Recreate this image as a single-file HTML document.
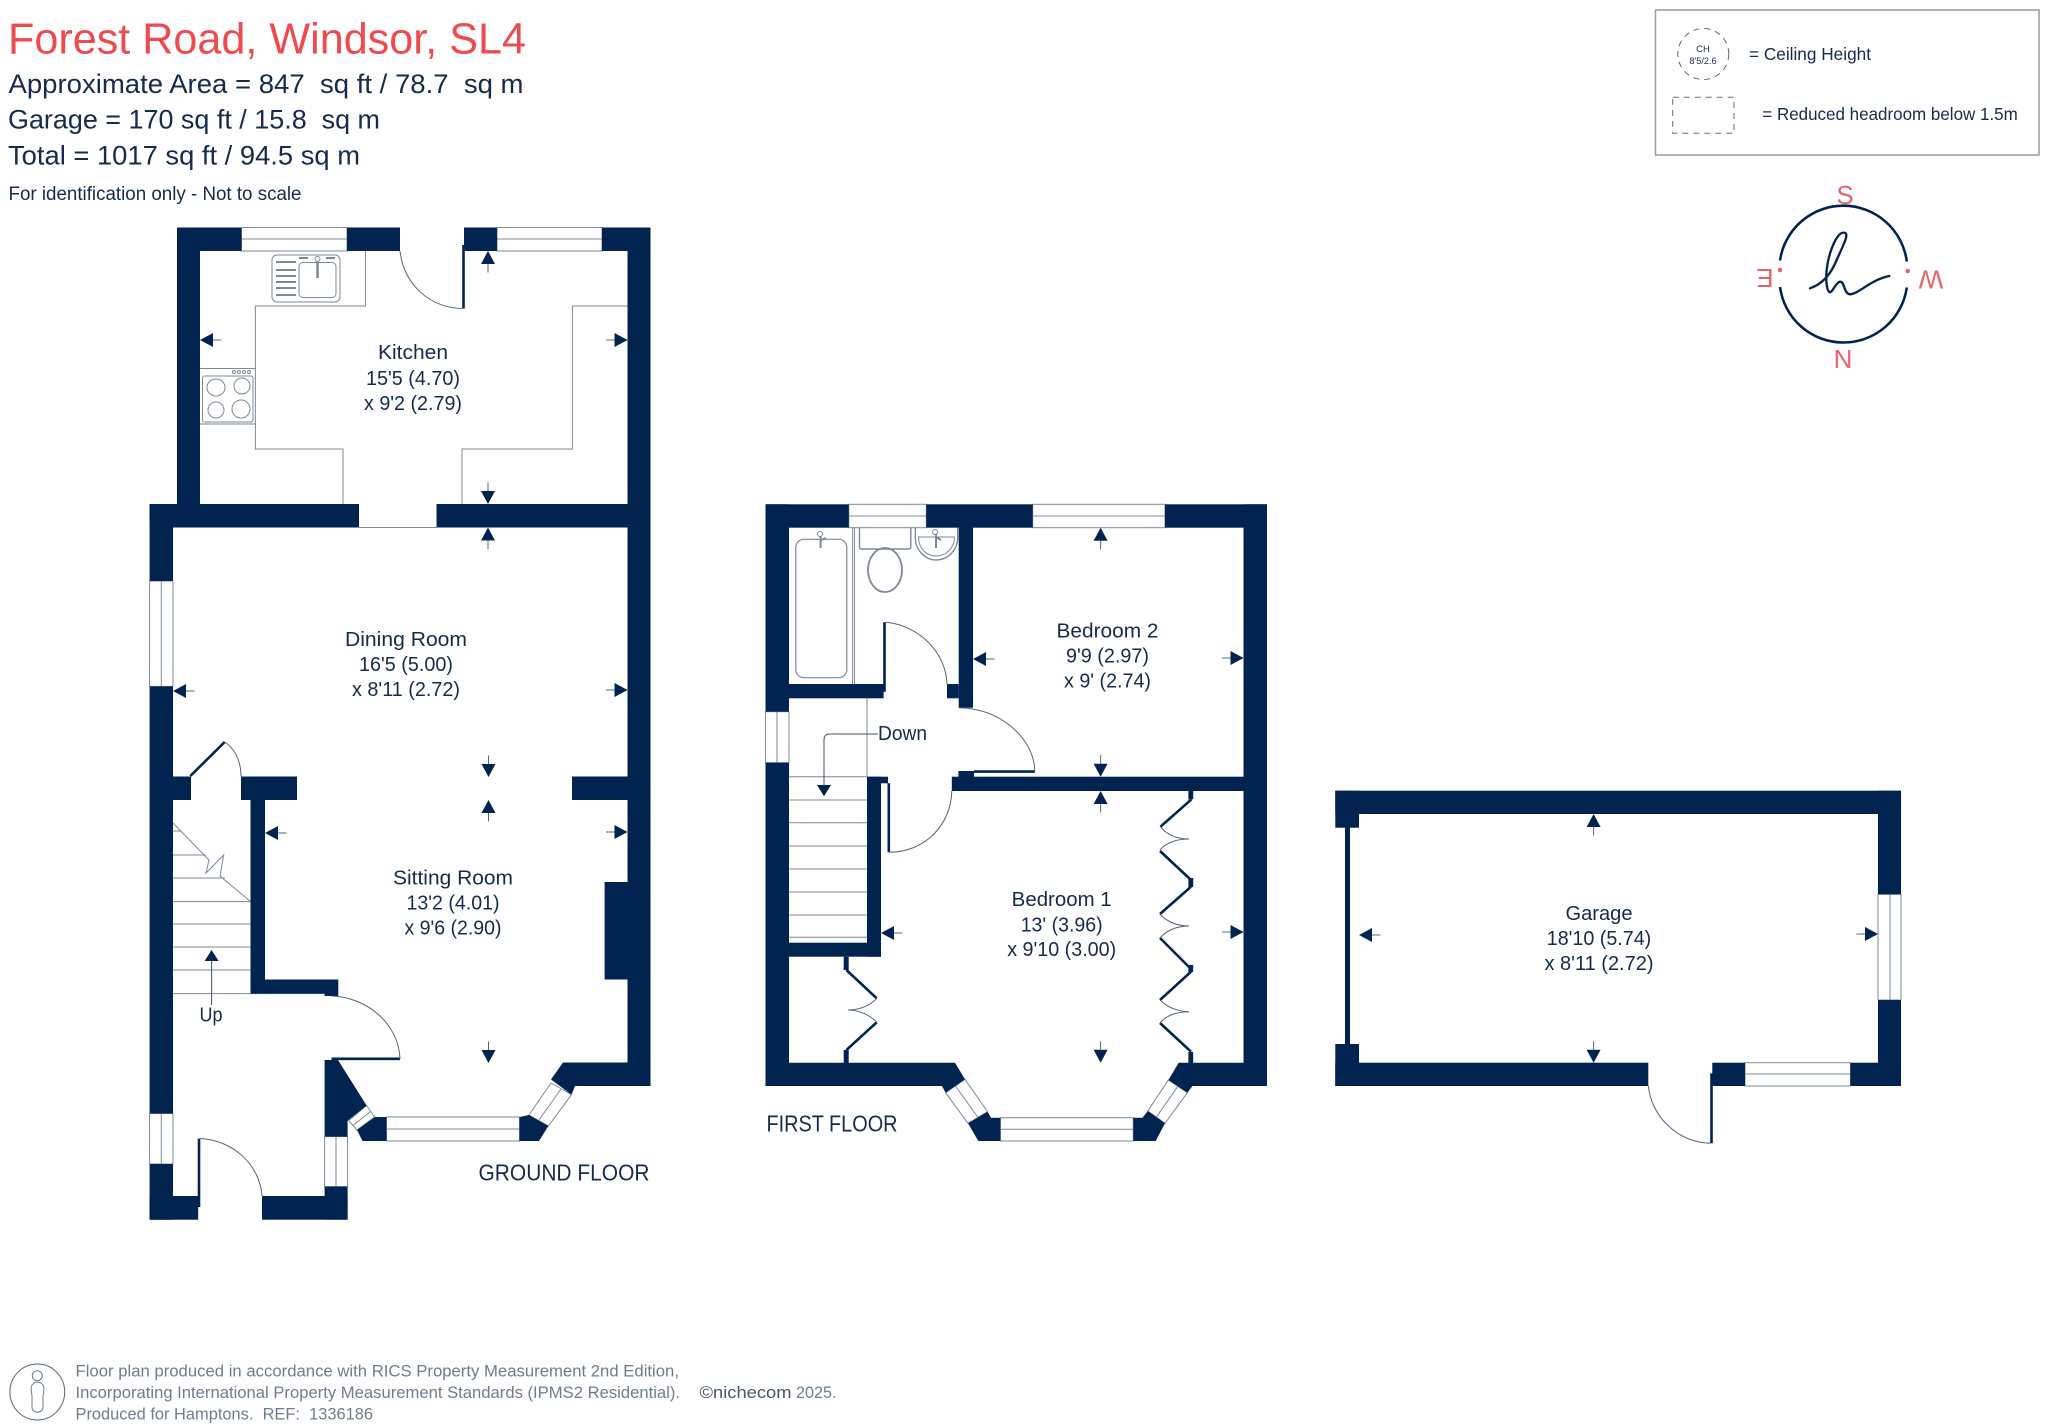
<!DOCTYPE html>
<html lang="en">
<head>
<meta charset="utf-8">
<title>Forest Road, Windsor, SL4 floor plan</title>
<style>
html,body{margin:0;padding:0;background:#fff}
svg{display:block}
text{font-family:"Liberation Sans",sans-serif}
.w{fill:#012350}
.t{fill:none;stroke:#7d8899;stroke-width:1}
.win{fill:#fff;stroke:#7d8899;stroke-width:1}
.d{fill:none;stroke:#556479;stroke-width:1}
.l{fill:none;stroke:#012350;stroke-width:2.6}
.r{fill:#142a4e;font-size:20px;text-anchor:middle}
.h{fill:#142a4e;font-size:27px}
.f{fill:#6e7d8e;font-size:16.5px}
.c{fill:#e8646a;font-size:26px;text-anchor:middle}
</style>
</head>
<body>
<svg xmlns="http://www.w3.org/2000/svg" width="2048" height="1428" viewBox="0 0 2048 1428">
<defs>
<g id="a"><polygon points="0,0 7,13 -7,13" fill="#012350"/><line x1="0" y1="13" x2="0" y2="21.5" stroke="#556479" stroke-width="1"/></g>
</defs>
<rect width="2048" height="1428" fill="#fff"/>

<!-- header -->
<text x="8" y="53.5" font-size="44" fill="#ee4b50" textLength="518" lengthAdjust="spacingAndGlyphs">Forest Road, Windsor, SL4</text>
<text class="h" x="8.5" y="93" textLength="515" lengthAdjust="spacingAndGlyphs" xml:space="preserve">Approximate Area = 847  sq ft / 78.7  sq m</text>
<text class="h" x="8" y="128.5" textLength="372" lengthAdjust="spacingAndGlyphs" xml:space="preserve">Garage = 170 sq ft / 15.8  sq m</text>
<text class="h" x="8" y="164.5" textLength="352" lengthAdjust="spacingAndGlyphs">Total = 1017 sq ft / 94.5 sq m</text>
<text x="8.5" y="200" font-size="19" fill="#142a4e" textLength="293" lengthAdjust="spacingAndGlyphs">For identification only - Not to scale</text>

<!-- legend -->
<rect x="1655.5" y="10" width="383.5" height="145" fill="none" stroke="#9a9a9a" stroke-width="1.5"/>
<circle cx="1703.3" cy="54" r="25.5" fill="none" stroke="#556479" stroke-width="1" stroke-dasharray="6 5"/>
<text x="1703" y="52" font-size="9.5" fill="#142a4e" text-anchor="middle">CH</text>
<text x="1703" y="64" font-size="9" fill="#142a4e" text-anchor="middle" textLength="27" lengthAdjust="spacingAndGlyphs">8'5/2.6</text>
<text x="1749" y="60" font-size="17.5" fill="#142a4e" textLength="122" lengthAdjust="spacingAndGlyphs">= Ceiling Height</text>
<rect x="1672.7" y="97.3" width="61.3" height="36" fill="none" stroke="#6b6f76" stroke-width="1" stroke-dasharray="6 5"/>
<text x="1762.3" y="120" font-size="17.5" fill="#142a4e" textLength="255.5" lengthAdjust="spacingAndGlyphs">= Reduced headroom below 1.5m</text>

<!-- compass -->
<path d="M1780 260.5 A64 64 0 0 1 1906.8 261.5" fill="none" stroke="#012350" stroke-width="2.6"/>
<path d="M1780 287 A64 64 0 0 0 1906.8 287.5" fill="none" stroke="#012350" stroke-width="2.6"/>
<circle cx="1780" cy="270" r="2.3" fill="#e8646a"/>
<circle cx="1907.7" cy="271" r="2.3" fill="#e8646a"/>
<text class="c" x="1845" y="204">S</text>
<text class="c" x="1843" y="368">N</text>
<text class="c" transform="translate(1765,269) rotate(180)" x="0" y="0">E</text>
<text class="c" transform="translate(1931,270.5) rotate(180)" x="0" y="0">W</text>
<g transform="translate(1640 0) scale(0.3333)">
<path d="M510 865 C540 855 570 830 590 780 C610 735 630 700 612 698 C590 696 565 760 560 810 C557 840 560 875 570 877 C580 875 585 850 600 845 C615 845 610 880 630 883 C660 880 690 840 748 828" fill="none" stroke="#012350" stroke-width="7" stroke-linecap="round"/>
</g>

<!-- GROUND FLOOR windows -->
<g class="win">
<rect x="241.5" y="227.5" width="105.5" height="23.5"/>
<rect x="497" y="227.5" width="105" height="23.5"/>
<rect x="149.6" y="581" width="23.4" height="105.4"/>
<rect x="149.6" y="1113.5" width="23.4" height="50.5"/>
<rect x="324.6" y="1136.6" width="23" height="50"/>
<rect x="386.5" y="1117" width="133" height="24"/>
<polygon points="551,1083 529,1115 548.4,1126 571.5,1094.6"/>
<polygon points="366.6,1105.5 374.5,1117 357,1130 348.7,1120.6"/>
</g>
<g class="t">
<path d="M241.5 239H347M497 239H602M161.3 581V686.4M161.3 1113.5V1164M336 1136.6V1186.6M386.5 1129H519.5M561 1089 538.7 1120.5M370.5 1111.5 353 1125.5M359 527.5H436.5"/>
<!-- kitchen counter -->
<path d="M365.5 251V306H255.4V449H343V504M627.5 306H572.4V449H462V504"/>
<path d="M200 368.5H255.4M200 424H255.4"/>
<rect x="272" y="255" width="68" height="47" rx="5"/>
<rect x="299" y="262.5" width="37" height="35" rx="4"/>
<path d="M276 262H296M276 270H296M276 276H296M276 282H296M276 288H296M276 295H296" stroke-width="2"/>
<path d="M299 258H308M326 258H335" stroke-width="2"/>
<rect x="202.5" y="376" width="50.5" height="46" rx="2"/>
<ellipse cx="216" cy="387.5" rx="9" ry="8.5"/>
<ellipse cx="242" cy="386" rx="8" ry="8"/>
<ellipse cx="216" cy="410" rx="8" ry="8"/>
<ellipse cx="241" cy="409" rx="9" ry="9"/>
<circle cx="234" cy="372" r="1.5"/><circle cx="239" cy="372" r="1.5"/><circle cx="244" cy="372" r="1.5"/><circle cx="249" cy="372" r="1.5"/>
<!-- ground stairs -->
<path d="M173 823 209 860 206 873 223.7 855 220 876 250.5 901.5"/>
<path d="M173 831H181M173 855H206M173 878H225M173 901.6H250.5M173 924H250.5M173 947H250.5M173 970H250.5M173 993.6H324.6"/>
</g>
<path d="M317.5 259V278" stroke="#7d8899" stroke-width="2.5" fill="none"/>
<circle cx="317.5" cy="259" r="2.5" fill="#fff" stroke="#7d8899"/>

<!-- GROUND FLOOR walls -->
<g class="w">
<rect x="177" y="227.5" width="64.5" height="23.5"/>
<rect x="177" y="227.5" width="23" height="280"/>
<rect x="347" y="227.5" width="53" height="23.5"/>
<rect x="464" y="227.5" width="33" height="23.5"/>
<rect x="602" y="227.5" width="48.5" height="23.5"/>
<rect x="627.5" y="227.5" width="23" height="858.3"/>
<rect x="149.6" y="504" width="209.4" height="23.5"/>
<rect x="436.5" y="504" width="214" height="23.5"/>
<rect x="149.6" y="504" width="23.4" height="77"/>
<rect x="149.6" y="686.4" width="23.4" height="427.1"/>
<rect x="149.6" y="1164" width="23.4" height="55.7"/>
<rect x="149.6" y="1196" width="48.6" height="23.7"/>
<rect x="173" y="776.5" width="18" height="23.5"/>
<rect x="241" y="776.5" width="56" height="23.5"/>
<rect x="572" y="776.5" width="55.5" height="23.5"/>
<rect x="250.5" y="800" width="14.5" height="193.6"/>
<rect x="250.5" y="979.5" width="87.8" height="14.1"/>
<rect x="324.6" y="993" width="13.7" height="3"/>
<rect x="604.6" y="882" width="23" height="97.5"/>
<rect x="262" y="1196" width="85.6" height="23.7"/>
<rect x="324.6" y="1186.6" width="23" height="33"/>
<polygon points="324.6,1060 338,1060 366.6,1105.5 347.6,1120.6 347.6,1136.6 324.6,1136.6"/>
<polygon points="375,1117 386.5,1117 386.5,1141 362.5,1141 357,1130"/>
<polygon points="519.5,1117 529,1115 548.4,1126 539,1141 519.5,1141"/>
<polygon points="627.5,1062.5 563,1062.5 551,1079.5 571.5,1094.6 575,1086 650.5,1086 650.5,1062.5"/>
</g>
<!-- ground door leaves -->
<g class="l">
<path d="M463.5 245V308.5M190.3 776 224.7 742M199 1138.5V1207M331.5 1058.8H400"/>
</g>
<path d="M211.6 961V1005" stroke="#445269" stroke-width="1" fill="none"/>
<polygon points="211.6,950 218.6,961 204.6,961" fill="#012350"/>
<g class="d">
<path d="M400 251C404 285 430 308 463 308.5"/>
<path d="M224.7 742C234 748 241 760 241 776.5"/>
<path d="M200 1138.5C233 1140 260 1165 262 1196"/>
<path d="M331.5 996C368 997 399 1025 400 1059"/>
</g>

<!-- FIRST FLOOR windows & fixtures -->
<g class="win">
<rect x="848.8" y="504.3" width="77.5" height="23.4"/>
<rect x="1032.7" y="504.3" width="132.3" height="23.4"/>
<rect x="765.5" y="711.7" width="23.5" height="51"/>
<rect x="1000.4" y="1117.7" width="132.9" height="23.3"/>
<polygon points="965,1079.3 987.6,1111.7 968,1123.3 945.6,1092.7"/>
<polygon points="1147.8,1111 1168.4,1080 1187.4,1092.7 1165,1123.3"/>
</g>
<g class="t">
<path d="M848.8 516H926.3M1032.7 516H1165M777 711.7V762.7M1000.4 1129.3H1133.3M955.5 1086 978 1117.5M1177.9 1086.3 1156.4 1117"/>
<rect x="795.8" y="539.3" width="51" height="138.4" rx="8" stroke-width="1.2"/>
<path d="M852.6 527.7V684M854.5 527.7V684M867 698.3V776.7" />
<path d="M859.5 527.7V547Q859.5 549 861.5 549H908.8Q910.8 549 910.8 547V527.7" stroke-width="1.4"/>
<ellipse cx="885" cy="570" rx="17" ry="22" stroke-width="1.8"/>
<path d="M915.3 527.7V538C915.3 550 925 560 936 560C948 560 957.7 550 957.7 538V527.7" stroke-width="1.3"/>
<path d="M918.5 537C918.5 549 927 556 936 556C945 556 954.5 549 954.5 537C945 537 928 537 918.5 537Z" stroke-width="1"/>
<path d="M820.6 535V548M821 540 826 538M936 532V548M936 537 941 540" stroke-width="2"/>
<circle cx="820" cy="534" r="2.5" fill="#fff"/>
<circle cx="935" cy="532" r="2.5" fill="#fff"/>
<path d="M789 776.7H867M789 800H867M789 822.7H867M789 846H867M789 869H867M789 892H867M789 915H867M789 937.3H867"/>
</g>
<!-- FIRST FLOOR walls -->
<g class="w">
<rect x="765.5" y="504.3" width="83.3" height="23.4"/>
<rect x="926.3" y="504.3" width="106.4" height="23.4"/>
<rect x="1165" y="504.3" width="102" height="23.4"/>
<rect x="765.5" y="504.3" width="23.5" height="207.4"/>
<rect x="765.5" y="762.7" width="23.5" height="323.3"/>
<rect x="1243.5" y="504.3" width="23.5" height="581.7"/>
<rect x="958.7" y="527" width="14.3" height="180.7"/>
<rect x="789" y="684" width="94.6" height="14.3"/>
<rect x="947" y="684" width="11.7" height="14.3"/>
<rect x="951.8" y="776.7" width="291.7" height="14.3"/>
<rect x="958.4" y="771" width="15.6" height="6"/>
<rect x="867" y="776.7" width="14" height="180"/>
<rect x="867" y="776.7" width="21" height="6.6"/>
<rect x="789" y="942.7" width="92" height="14"/>
<polygon points="765.5,1086 942,1086 945.6,1092.7 965,1079.3 955,1062.7 765.5,1062.7"/>
<polygon points="987.6,1111.7 991,1117.7 1000.4,1117.7 1000.4,1141 978.3,1141 968,1123.3"/>
<polygon points="1133.3,1117.7 1142.6,1117.7 1147.8,1111 1165,1123.3 1155.7,1141 1133.3,1141"/>
<polygon points="1178.7,1062.7 1168.4,1080 1187.4,1092.7 1192.5,1086 1267,1086 1267,1062.7"/>
<!-- wardrobe stubs -->
<rect x="1188.4" y="791" width="4.8" height="8.3"/>
<rect x="1188.4" y="878" width="4.8" height="9"/>
<rect x="1188.4" y="965" width="4.8" height="7"/>
<rect x="1188.4" y="1052" width="4.8" height="11"/>
<rect x="843.7" y="956.7" width="5" height="13.3"/>
<rect x="843.7" y="1050" width="5" height="13"/>
</g>
<g class="l">
<path d="M884.5 622.3V691.7M974 771.6H1034.8M888.8 783.3V852.3"/>
<path d="M1191.5 799.3 1160.5 826.7M1160 851 1191 880M1191 886.7 1160 914M1160 938 1191 969M1191 971.7 1160 1000M1160 1023 1191 1051.7M846.4 970 876.7 998.3M876.7 1022.3 846.4 1050"/>
</g>
<g class="d">
<path d="M885.7 622.3C918 625 946 652 947 684"/>
<path d="M958.7 707.7C1000 708 1034 738 1034.8 771"/>
<path d="M889.5 852.3C925 852 951 825 951.8 791"/>
<path d="M1160.5 826.7C1166 834 1176 839 1189 839C1176 839 1166 843 1160 850"/>
<path d="M1160 914C1166 921 1176 926 1189 926C1176 926 1166 931 1160 938"/>
<path d="M1160 1000C1166 1006 1176 1011.7 1189 1011.7C1176 1011.7 1166 1016 1160 1023"/>
<path d="M876.7 998.3C871 1005 860 1010 848 1010C860 1010 871 1016 876.7 1022.3"/>
<path d="M878 734H829C826 734 824 736 824 740V785" stroke="#445269"/>
</g>
<polygon points="824,796.3 817,785 831,785" fill="#012350"/>

<!-- GARAGE -->
<g class="win">
<rect x="1745" y="1062.7" width="105.4" height="23.3"/>
<rect x="1878" y="894.3" width="23" height="105.7"/>
</g>
<path class="t" d="M1745 1074H1850.4M1890 894.3V1000"/>
<g class="w">
<rect x="1335.3" y="790.7" width="565.7" height="23.3"/>
<rect x="1335.3" y="790.7" width="23.7" height="37"/>
<rect x="1345" y="827" width="5" height="218"/>
<rect x="1335.3" y="1044" width="23.7" height="42"/>
<rect x="1335.3" y="1062.7" width="313" height="23.3"/>
<rect x="1712.3" y="1062.7" width="32.7" height="23.3"/>
<rect x="1850.4" y="1062.7" width="50.6" height="23.3"/>
<rect x="1878" y="790.7" width="23" height="103.6"/>
<rect x="1878" y="1000" width="23" height="86"/>
</g>
<path class="l" d="M1711.5 1073.3V1143.3"/>
<path class="d" d="M1648.3 1086C1652 1117 1677 1142 1710.3 1143.3"/>

<!-- dimension arrows -->
<use href="#a" transform="translate(488 251)"/>
<use href="#a" transform="translate(488 504) rotate(180)"/>
<use href="#a" transform="translate(488 527.5)"/>
<use href="#a" transform="translate(200 340) rotate(270)"/>
<use href="#a" transform="translate(627.5 340) rotate(90)"/>
<use href="#a" transform="translate(173 691) rotate(270)"/>
<use href="#a" transform="translate(627.5 690) rotate(90)"/>
<use href="#a" transform="translate(488.5 777) rotate(180)"/>
<use href="#a" transform="translate(488.5 800)"/>
<use href="#a" transform="translate(265 833) rotate(270)"/>
<use href="#a" transform="translate(627.5 832) rotate(90)"/>
<use href="#a" transform="translate(488.5 1063) rotate(180)"/>
<use href="#a" transform="translate(1100.6 527.7)"/>
<use href="#a" transform="translate(973 659) rotate(270)"/>
<use href="#a" transform="translate(1243.5 658) rotate(90)"/>
<use href="#a" transform="translate(1100.6 776.7) rotate(180)"/>
<use href="#a" transform="translate(1100.6 791)"/>
<use href="#a" transform="translate(881 933) rotate(270)"/>
<use href="#a" transform="translate(1243.5 932) rotate(90)"/>
<use href="#a" transform="translate(1100.6 1062.7) rotate(180)"/>
<use href="#a" transform="translate(1593.6 814)"/>
<use href="#a" transform="translate(1593.6 1062.7) rotate(180)"/>
<use href="#a" transform="translate(1359 935) rotate(270)"/>
<use href="#a" transform="translate(1878 934) rotate(90)"/>

<!-- room labels -->
<text class="r" x="413" y="359" textLength="70" lengthAdjust="spacingAndGlyphs">Kitchen</text>
<text class="r" x="413" y="385" textLength="94" lengthAdjust="spacingAndGlyphs">15'5 (4.70)</text>
<text class="r" x="413" y="410" textLength="98" lengthAdjust="spacingAndGlyphs">x 9'2 (2.79)</text>
<text class="r" x="406" y="646" textLength="122" lengthAdjust="spacingAndGlyphs">Dining Room</text>
<text class="r" x="406" y="671" textLength="94" lengthAdjust="spacingAndGlyphs">16'5 (5.00)</text>
<text class="r" x="406" y="696" textLength="108" lengthAdjust="spacingAndGlyphs">x 8'11 (2.72)</text>
<text class="r" x="453" y="884.5" textLength="120" lengthAdjust="spacingAndGlyphs">Sitting Room</text>
<text class="r" x="453" y="909.5" textLength="93" lengthAdjust="spacingAndGlyphs">13'2 (4.01)</text>
<text class="r" x="453" y="934.5" textLength="97" lengthAdjust="spacingAndGlyphs">x 9'6 (2.90)</text>
<text class="r" x="211" y="1021.5" textLength="23" lengthAdjust="spacingAndGlyphs">Up</text>
<text x="478.5" y="1180.5" font-size="23" fill="#142a4e" textLength="171" lengthAdjust="spacingAndGlyphs">GROUND FLOOR</text>
<text class="r" x="1107.5" y="637.5" textLength="102" lengthAdjust="spacingAndGlyphs">Bedroom 2</text>
<text class="r" x="1107.5" y="662.5" textLength="83" lengthAdjust="spacingAndGlyphs">9'9 (2.97)</text>
<text class="r" x="1107.5" y="687.5" textLength="87" lengthAdjust="spacingAndGlyphs">x 9' (2.74)</text>
<text x="878" y="740" font-size="20" fill="#142a4e" textLength="49" lengthAdjust="spacingAndGlyphs">Down</text>
<text class="r" x="1061.7" y="906" textLength="100" lengthAdjust="spacingAndGlyphs">Bedroom 1</text>
<text class="r" x="1061.7" y="931.5" textLength="82" lengthAdjust="spacingAndGlyphs">13' (3.96)</text>
<text class="r" x="1061.7" y="956" textLength="109" lengthAdjust="spacingAndGlyphs">x 9'10 (3.00)</text>
<text x="766.5" y="1131.5" font-size="23" fill="#142a4e" textLength="131" lengthAdjust="spacingAndGlyphs">FIRST FLOOR</text>
<text class="r" x="1599" y="920" textLength="67" lengthAdjust="spacingAndGlyphs">Garage</text>
<text class="r" x="1599" y="945" textLength="104.5" lengthAdjust="spacingAndGlyphs">18'10 (5.74)</text>
<text class="r" x="1599" y="970" textLength="109" lengthAdjust="spacingAndGlyphs">x 8'11 (2.72)</text>

<!-- footer -->
<ellipse cx="37.3" cy="1392" rx="27.4" ry="28" fill="none" stroke="#556479" stroke-width="1"/>
<circle cx="37.3" cy="1375.7" r="5" fill="none" stroke="#6e7d8e" stroke-width="1"/>
<path d="M33 1384C30 1386 31.5 1392 32 1396V1407C32 1414 43 1414 43 1407V1396C43.5 1392 45 1386 42 1384C40 1381.5 35 1381.5 33 1384Z" fill="none" stroke="#6e7d8e" stroke-width="1"/>
<text class="f" x="75.5" y="1376.5" textLength="603.5" lengthAdjust="spacingAndGlyphs">Floor plan produced in accordance with RICS Property Measurement 2nd Edition,</text>
<text class="f" x="75.5" y="1398" textLength="604.5" lengthAdjust="spacingAndGlyphs">Incorporating International Property Measurement Standards (IPMS2 Residential).</text>
<text class="f" x="75.5" y="1419.5" textLength="297.5" lengthAdjust="spacingAndGlyphs" xml:space="preserve">Produced for Hamptons.  REF:  1336186</text>
<text x="699.5" y="1398" font-size="16.5" fill="#44546a" textLength="92" lengthAdjust="spacingAndGlyphs">©nichecom</text>
<text class="f" x="796" y="1398" textLength="40.5" lengthAdjust="spacingAndGlyphs">2025.</text>
</svg>
</body>
</html>
